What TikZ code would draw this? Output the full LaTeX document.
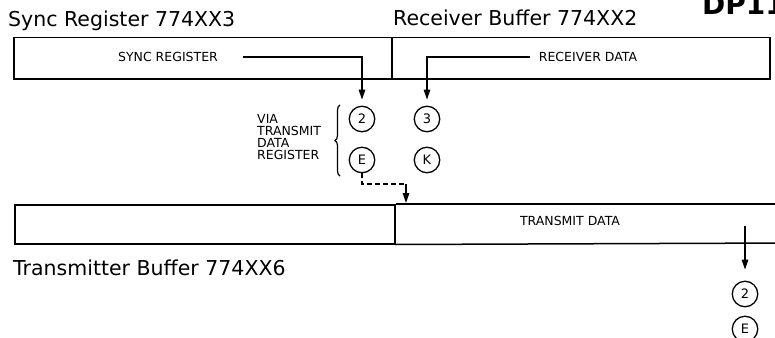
\documentclass[tikz,border=0pt]{standalone}
\usepackage{fontspec}
\setmainfont{DejaVu Sans}
\usetikzlibrary{arrows.meta,decorations.pathreplacing}
\begin{document}
\begin{tikzpicture}[x=1pt,y=-1pt,
  title/.style={font=\fontsize{20.5}{24}\selectfont, inner sep=0pt},
  reglbl/.style={font=\fontsize{12.5}{14}\selectfont, inner sep=0pt},
  bit/.style={draw, circle, line width=1.3pt, minimum size=25.5pt, inner sep=0pt, font=\fontsize{13}{13}\selectfont},
  regbox/.style={draw, line width=1.5pt, minimum height=41pt, inner sep=0pt},
  conn/.style={line width=1.4pt},
  arr/.style={conn, -{Triangle[length=10pt,width=6.5pt]}}]
\useasboundingbox (0,0) rectangle (775,337);
\clip (0,0) rectangle (775,337);
% register boxes
\node[regbox, minimum width=378pt, anchor=north west] (syncbox) at (13,37) {};
\node[regbox, minimum width=378pt, anchor=north west] (rxbox) at (391,37) {};
\node[regbox, minimum width=380pt, minimum height=39pt, anchor=north west] (txlbox) at (14,204) {};
\draw[line width=1.5pt] (txlbox.north east) -- (790,204);
\draw[line width=1.5pt] (txlbox.south east) -- (790,243);
% field labels
\node[reglbl] (synclbl) at (168,57) {SYNC REGISTER};
\node[reglbl] (rxlbl) at (588,57) {RECEIVER DATA};
\node[reglbl] (txlbl) at (570,221) {TRANSMIT DATA};
% titles
\node[title, anchor=base west] (t1) at (8,27) {Sync Register 774XX3};
\node[title, anchor=base west] (t2) at (393,26) {Receiver Buffer 774XX2};
\node[title, anchor=base west] (t3) at (13,275) {Transmitter Buffer 774XX6};
\node[font=\fontsize{28}{30}\selectfont\bfseries, anchor=base west, inner sep=0pt] (dp) at (702,15) {DP11};
% bit circles
\node[bit] (c2) at (362,119) {2};
\node[bit] (c3) at (427,119) {3};
\node[bit] (cE) at (362,160) {E};
\node[bit] (cK) at (427,160) {K};
\node[bit] (c2b) at (745,294) {2};
\node[bit] (cEb) at (745,329) {E};
% brace and note
\draw[line width=1.2pt, decorate, decoration={brace, amplitude=5pt}] (340,176) -- (340,105);
\node[anchor=west, align=left, font=\fontsize{12.5}{11.7}\selectfont, inner sep=0pt] (via) at (257,137) {VIA\\TRANSMIT\\DATA\\REGISTER};
% connectors
\draw[arr] ([xshift=25pt]synclbl.east) -| ([yshift=6pt]c2.north);
\draw[arr] ([xshift=-9pt]rxlbl.west) -| ([yshift=6pt]c3.north);
\coordinate (dk) at (406,184);
\coordinate (dtip) at (406,203);
\draw[conn, dash pattern=on 5pt off 3pt] (cE.south) |- (dk);
\draw[arr] (dk) -- (dtip);
\coordinate (txs) at (745,226);
\draw[arr] (txs) -- ([yshift=11pt]c2b.north);
\end{tikzpicture}
\end{document}
